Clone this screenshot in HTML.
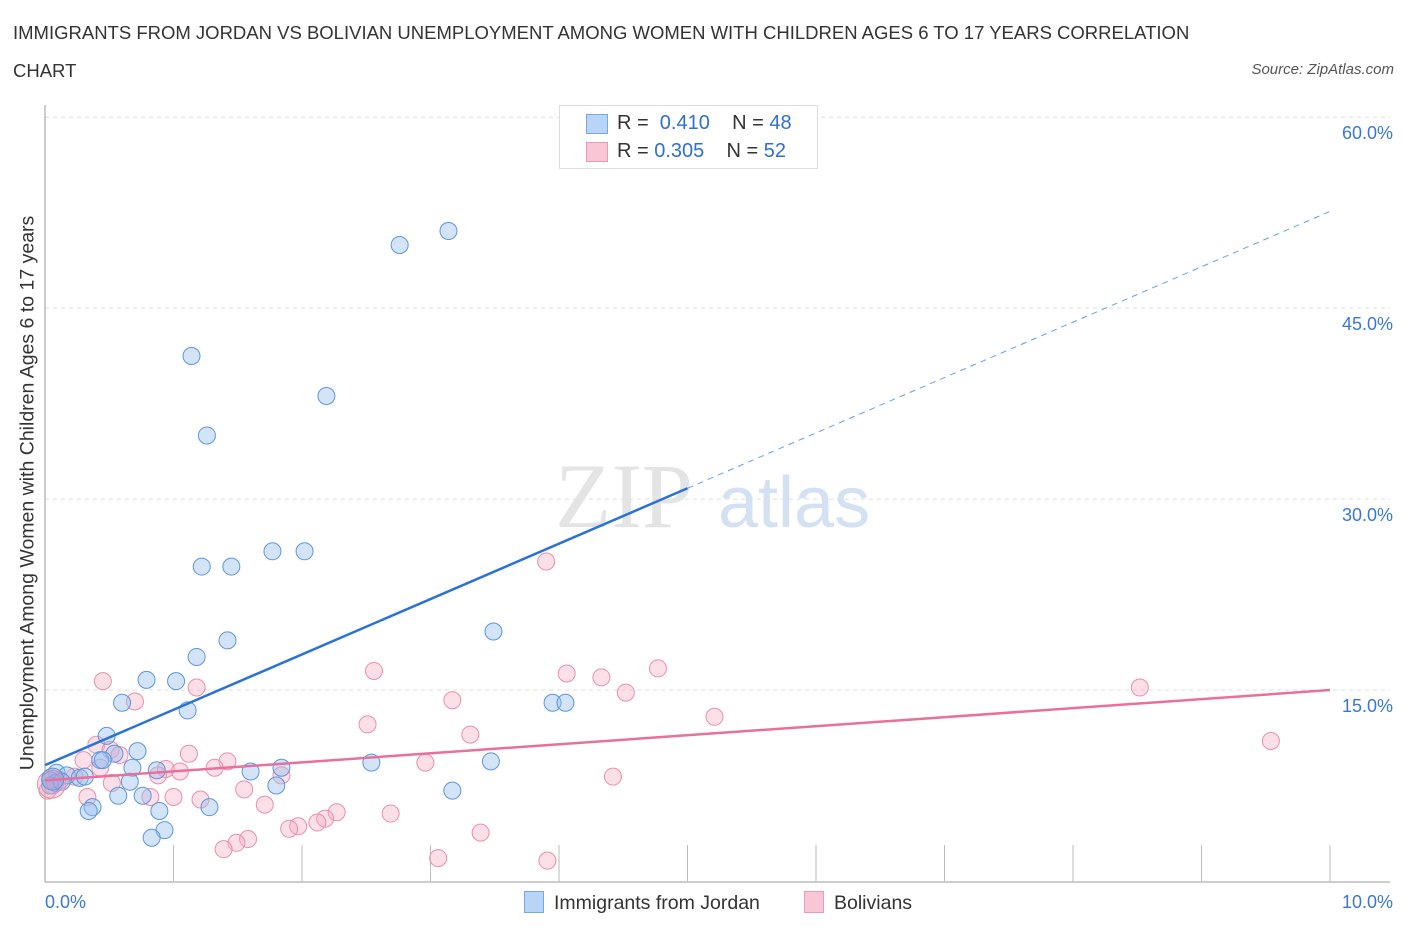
<!DOCTYPE html>
<html><head><meta charset="utf-8">
<style>
body{margin:0;background:#fff;font-family:"Liberation Sans",sans-serif;}
#wrap{position:relative;width:1406px;height:930px;overflow:hidden;}
.t{position:absolute;white-space:nowrap;}
</style></head>
<body>
<div id="wrap">
<div class="t" style="left:13px;top:14px;font-size:18.5px;color:#333;line-height:38px;width:1215px;white-space:normal;">IMMIGRANTS FROM JORDAN VS BOLIVIAN UNEMPLOYMENT AMONG WOMEN WITH CHILDREN AGES 6 TO 17 YEARS CORRELATION CHART</div>
<div class="t" style="right:12px;top:61px;font-size:15px;font-style:italic;color:#555;">Source: ZipAtlas.com</div>
<svg id="svg" width="1406" height="930" style="position:absolute;left:0;top:0"></svg>
</div>
<script>
const blueX=[2.76,3.14,1.14,2.19,1.26,1.77,2.02,1.22,1.45,3.49,1.42,1.18,0.79,1.02,0.60,1.11,3.95,4.05,0.48,0.72,0.54,0.43,0.45,2.54,3.47,1.60,1.84,0.87,0.68,0.09,0.17,0.27,0.31,0.04,0.08,0.66,1.80,3.17,0.57,0.76,0.37,0.34,1.28,0.89,0.93,0.83,0.04,0.13];
const blueY=[49.96,51.06,41.24,38.1,35.0,25.9,25.9,24.7,24.7,19.6,18.9,17.6,15.8,15.7,14.0,13.4,14.0,14.0,11.4,10.2,10.0,9.5,9.5,9.3,9.4,8.6,8.9,8.7,8.9,8.5,8.3,8.1,8.2,7.9,7.7,7.8,7.5,7.1,6.7,6.7,5.8,5.5,5.8,5.5,4.0,3.4,7.5,7.8];
const pinkX=[3.90,8.52,9.54,4.77,2.56,4.06,4.33,0.45,1.18,4.52,3.17,0.70,5.21,2.51,3.31,0.40,1.12,1.42,2.96,1.32,0.94,1.05,0.52,0.51,4.42,1.84,0.88,1.55,0.33,1.00,0.82,1.21,1.71,2.69,2.27,2.18,2.12,1.97,1.90,3.39,1.58,1.49,1.39,3.06,3.91,0.06,0.02,0.23,0.30,0.58,0.43,0.12];
const pinkY=[25.1,15.2,11.0,16.7,16.5,16.3,16.0,15.7,15.2,14.8,14.2,14.1,12.9,12.3,11.5,10.7,10.0,9.4,9.3,8.9,8.8,8.6,7.7,10.3,8.2,8.3,8.3,7.2,6.6,6.6,6.6,6.4,6.0,5.3,5.4,4.9,4.6,4.3,4.1,3.8,3.3,3.0,2.5,1.8,1.6,7.5,7.1,8.2,9.5,9.9,8.9,7.9];
const blueTrend=[9.1,52.6];
const pinkTrend=[7.9,15.0];
const yTicks=[15,30,45,60];
const yTickLabels=["15.0%","30.0%","45.0%","60.0%"];
const xTickLabels=["0.0%","10.0%"];

const X0=45,X1=1330,Y0=881,PY=12.73;
const sx=v=>X0+(X1-X0)*v/10;
const sy=v=>Y0-v*PY;
const svg=document.getElementById('svg');
const NS='http://www.w3.org/2000/svg';
function mk(tag,attrs,parent){const e=document.createElementNS(NS,tag);for(const k in attrs)e.setAttribute(k,attrs[k]);(parent||svg).appendChild(e);return e;}

yTicks.forEach((v,i)=>{
  const g=mk('line',{x1:X0,x2:1390,y1:sy(v),y2:sy(v),stroke:'#ddd','stroke-dasharray':'4,4'});
  
  
  const t=mk('text',{x:1393,y:sy(v)+22,'text-anchor':'end','font-size':18,fill:'#3a78d0','font-family':'Liberation Sans, sans-serif'});
  t.textContent=yTickLabels[i];
  
  
});
let a=mk('line',{x1:X0,x2:X0,y1:105,y2:Y0+1,stroke:'#bbb','stroke-width':1.5});


a=mk('line',{x1:X0,x2:X1+60,y1:Y0+1,y2:Y0+1,stroke:'#bbb','stroke-width':1.5});


for(let i=0;i<=10;i++){
  const tk=mk('line',{x1:sx(i),x2:sx(i),y1:845,y2:Y0,stroke:'#bbb'});
  
  
}
let w=mk('text',{x:555,y:527,'font-size':92,fill:'#e4e4e4','font-family':'Liberation Serif, serif'});
w.textContent='ZIP';


w=mk('text',{x:718,y:527,'font-size':72,fill:'#d3e1f3','font-family':'Liberation Sans, sans-serif'});
w.textContent='atlas';



function pts(xs,ys,fill,stroke,name){
  xs.forEach((x,i)=>{
    const c=mk('circle',{cx:sx(x),cy:sy(ys[i]),r:8.5,fill:fill,stroke:stroke,'stroke-width':1});
    
    
  });
}
pts(pinkX,pinkY,'rgba(246,170,192,0.38)','#e890aa','bolivians-point');
pts(blueX,blueY,'rgba(150,190,240,0.42)','#5c96e0','jordan-point');
let b=mk('circle',{cx:sx(0.05),cy:sy(7.6),r:14,fill:'rgba(246,170,192,0.4)',stroke:'#e890aa'});


b=mk('circle',{cx:sx(0.06),cy:sy(8.0),r:11,fill:'rgba(150,160,220,0.45)',stroke:'#5c96e0'});



let l=mk('line',{x1:sx(0),y1:sy(blueTrend[0]),x2:sx(5),y2:sy(blueTrend[0]+(blueTrend[1]-blueTrend[0])*0.5),stroke:'#2a72d8','stroke-width':2.5});


l=mk('line',{x1:sx(5),y1:sy(blueTrend[0]+(blueTrend[1]-blueTrend[0])*0.5),x2:sx(10),y2:sy(blueTrend[1]),stroke:'#6a9ee0','stroke-width':1,'stroke-dasharray':'6,5'});


l=mk('line',{x1:sx(0),y1:sy(pinkTrend[0]),x2:sx(10),y2:sy(pinkTrend[1]),stroke:'#e8709a','stroke-width':2.5});



let xt=mk('text',{x:45,y:908,'font-size':18,fill:'#3a78d0','font-family':'Liberation Sans, sans-serif'});
xt.textContent=xTickLabels[0];


xt=mk('text',{x:1393,y:908,'text-anchor':'end','font-size':18,fill:'#3a78d0','font-family':'Liberation Sans, sans-serif'});
xt.textContent=xTickLabels[1];


</script>
<div class="t" style="left:28px;top:493px;font-size:19.5px;color:#333;transform:translate(-50%,-50%) rotate(-90deg);">Unemployment Among Women with Children Ages 6 to 17 years</div>
<div style="position:absolute;left:559px;top:105px;width:257px;height:62px;border:1px solid #ddd;background:#fff;font-size:20px;color:#333;">
  <div style="position:absolute;left:26px;top:8px;width:20px;height:18px;background:#b8d4f6;border:1px solid #7aa8e4;"></div>
  <div class="t" style="left:57px;top:6px;">R = <span style="color:#2f6fd0">&nbsp;0.410</span>&nbsp;&nbsp;&nbsp; N = <span style="color:#2f6fd0">48</span></div>
  <div style="position:absolute;left:26px;top:36px;width:20px;height:18px;background:#f9c6d6;border:1px solid #ea9ab4;"></div>
  <div class="t" style="left:57px;top:34px;">R = <span style="color:#2f6fd0">0.305</span>&nbsp;&nbsp;&nbsp; N = <span style="color:#2f6fd0">52</span></div>
</div>
<div style="position:absolute;left:524px;top:891px;font-size:19.5px;color:#333;">
  <span style="display:inline-block;width:18px;height:20px;background:#b8d4f6;border:1px solid #7aa8e4;vertical-align:-4px;margin-right:10px;"></span>Immigrants from Jordan</div>
<div style="position:absolute;left:804px;top:891px;font-size:19.5px;color:#333;">
  <span style="display:inline-block;width:18px;height:20px;background:#f9c6d6;border:1px solid #ea9ab4;vertical-align:-4px;margin-right:10px;"></span>Bolivians</div>
</body></html>
